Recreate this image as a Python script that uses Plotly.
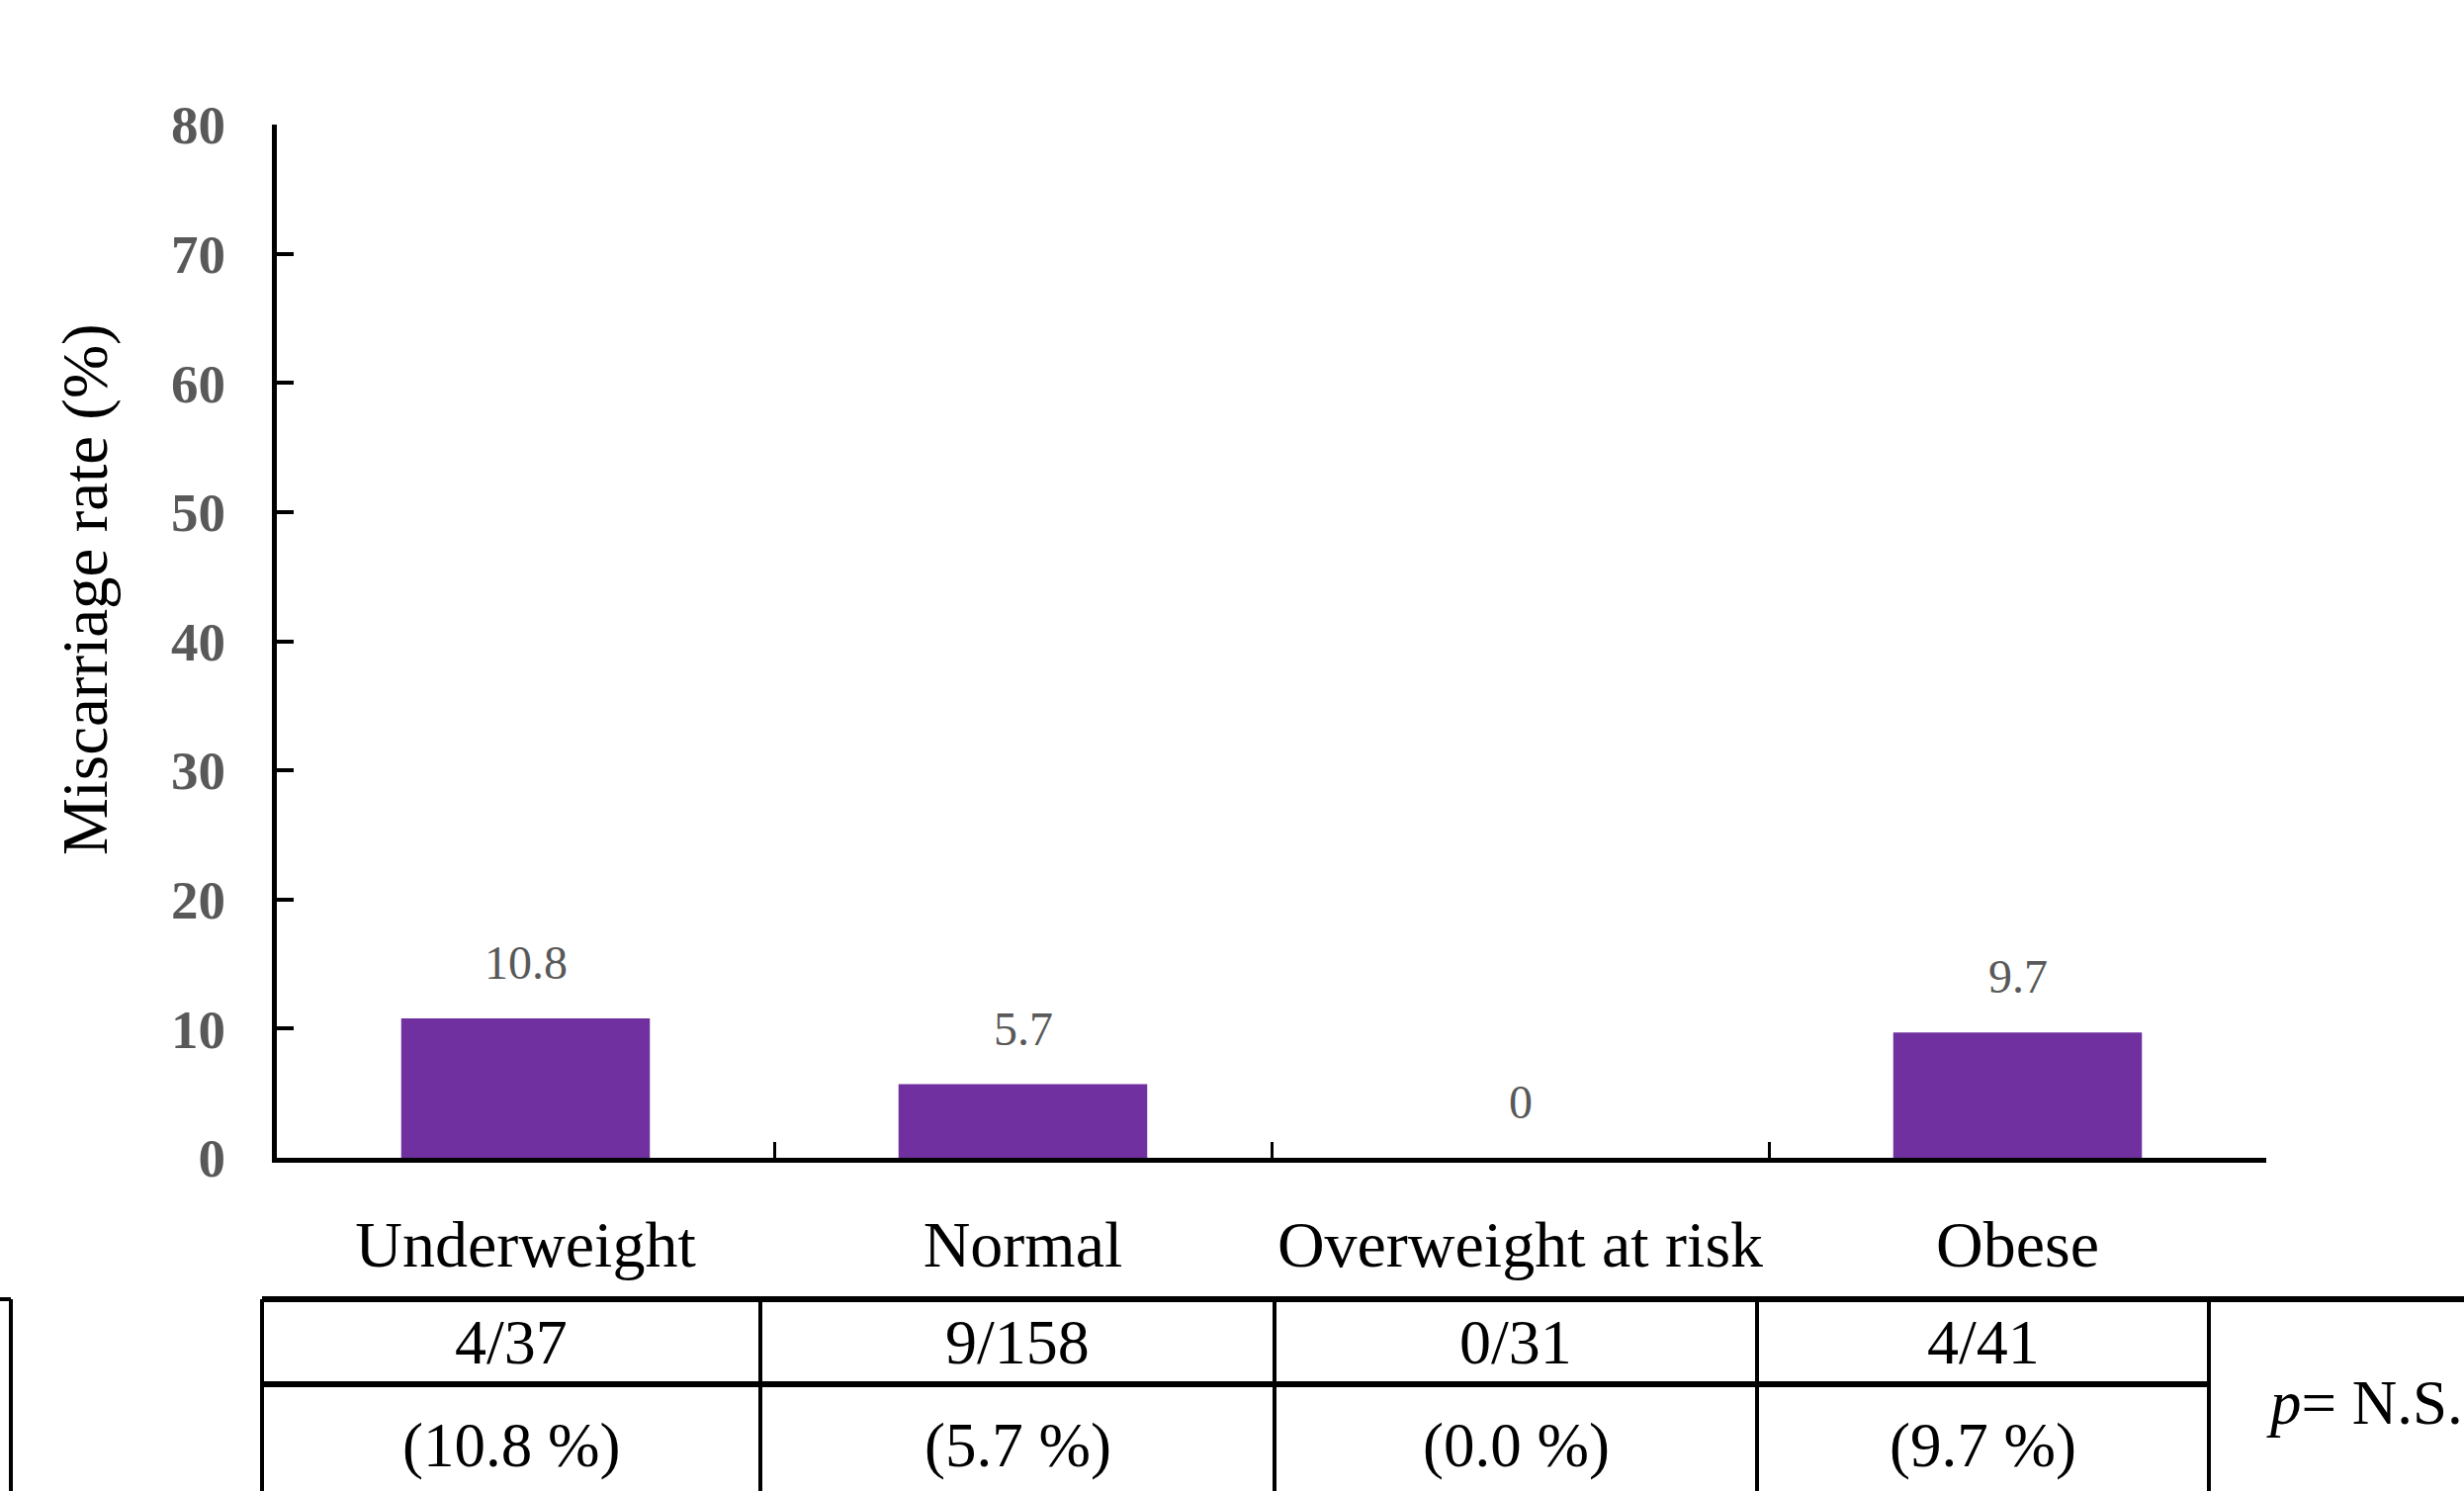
import plotly.graph_objects as go

categories = ["Underweight", "Normal", "Overweight at risk", "Obese"]
rates = [10.8, 5.7, 0, 9.7]
miscarriages = [4, 9, 0, 4]
totals = [37, 158, 31, 41]
y_ticks = [0, 10, 20, 30, 40, 50, 60, 70, 80]
y_title = "Miscarriage rate (%)"
p_text = "<i>p</i>= N.S."

W, H = 2492, 1508
PL, PR, PT, PB = 280, 2292, 126, 1171
BAR_COLOR = "#7030A0"
FONT = "Liberation Serif"


def px2x(px):
    return (px - PL) / (PR - PL)


def py2y(py):
    return (PB - py) / (PB - PT)


fig = go.Figure()
fig.add_trace(go.Bar(
    x=categories, y=rates, width=0.5,
    marker=dict(color=BAR_COLOR, line=dict(width=0)),
    hoverinfo="skip",
))

annotations = []
for c, v in zip(categories, rates):
    annotations.append(dict(
        x=c, y=v, xref="x", yref="y", text=f"{v:g}", showarrow=False,
        yanchor="bottom", yshift=28,
        font=dict(family=FONT, size=48, color="#595959"),
    ))

# y-axis title (placed like the reference, above the plot centre)
annotations.append(dict(
    x=px2x(86), y=py2y(596), xref="paper", yref="paper",
    text=y_title, textangle=-90, showarrow=False,
    xanchor="center", yanchor="middle",
    font=dict(family=FONT, size=65, color="black"),
))

# table geometry (pixels)
col_edges = [265, 769, 1289, 1777, 2234]
row_top, row_mid = 1314, 1400
shapes = []
lc = "black"
shapes.append(dict(type="line", xref="paper", yref="paper",
                   x0=px2x(col_edges[0]), x1=px2x(W + 20),
                   y0=py2y(row_top), y1=py2y(row_top),
                   line=dict(color=lc, width=6)))
shapes.append(dict(type="line", xref="paper", yref="paper",
                   x0=px2x(col_edges[0]), x1=px2x(col_edges[-1]),
                   y0=py2y(row_mid), y1=py2y(row_mid),
                   line=dict(color=lc, width=6)))
for e in col_edges:
    shapes.append(dict(type="line", xref="paper", yref="paper",
                       x0=px2x(e), x1=px2x(e),
                       y0=py2y(row_top), y1=py2y(H + 20),
                       line=dict(color=lc, width=4)))
shapes.append(dict(type="line", xref="paper", yref="paper",
                   x0=px2x(-20), x1=px2x(11),
                   y0=py2y(row_top), y1=py2y(row_top),
                   line=dict(color=lc, width=4)))
shapes.append(dict(type="line", xref="paper", yref="paper",
                   x0=px2x(11), x1=px2x(11),
                   y0=py2y(row_top), y1=py2y(H + 20),
                   line=dict(color=lc, width=4)))

for i in range(len(categories)):
    cx = px2x((col_edges[i] + col_edges[i + 1]) / 2)
    annotations.append(dict(
        x=cx, y=py2y((row_top + row_mid) / 2), xref="paper", yref="paper",
        text=f"{miscarriages[i]}/{totals[i]}", showarrow=False,
        xanchor="center", yanchor="middle",
        font=dict(family=FONT, size=64, color="black"),
    ))
    annotations.append(dict(
        x=cx, y=py2y(1462), xref="paper", yref="paper",
        text=f"({rates[i]:.1f} %)", showarrow=False,
        xanchor="center", yanchor="middle",
        font=dict(family=FONT, size=63, color="black"),
    ))
annotations.append(dict(
    x=px2x(2290), y=py2y(1419), xref="paper", yref="paper",
    text=p_text, showarrow=False, xanchor="left", yanchor="middle",
    font=dict(family=FONT, size=63, color="black"),
))

fig.update_layout(
    width=W, height=H,
    margin=dict(l=PL, r=W - PR, t=PT, b=H - PB, pad=0),
    plot_bgcolor="white", paper_bgcolor="white",
    showlegend=False, bargap=0.5,
    annotations=annotations, shapes=shapes,
)
fig.update_xaxes(
    showline=True, linecolor="black", linewidth=5,
    ticks="inside", tickson="boundaries", ticklen=16, tickwidth=3, tickcolor="black",
    tickfont=dict(family=FONT, size=66, color="black"),
    ticklabelstandoff=26,
    showgrid=False, zeroline=False,
)
fig.update_yaxes(
    range=[0, 80], tickvals=y_ticks,
    showline=True, linecolor="black", linewidth=5,
    ticks="inside", ticklen=17, tickwidth=4, tickcolor="black",
    tickfont=dict(family=FONT, size=55, color="#595959", weight="bold"),
    ticklabelstandoff=36,
    showgrid=False, zeroline=False,
)

fig.write_html("out.html")
